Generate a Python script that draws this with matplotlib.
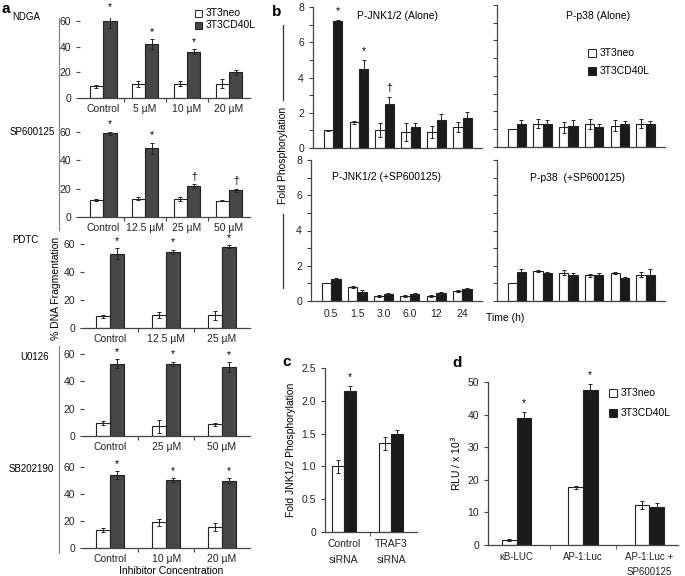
import numpy as np
import matplotlib
matplotlib.use("Agg")
import matplotlib.pyplot as plt
from matplotlib.lines import Line2D
from matplotlib.patches import Rectangle

plt.rcParams['font.family'] = ['Liberation Sans', 'DejaVu Sans']
plt.rcParams['font.size'] = 7.5

# ---- data: panel a (% DNA fragmentation) ----
ndga_labels = ['Control', '5 µM', '10 µM', '20 µM']
ndga_neo = [9, 11, 11, 11]
ndga_neo_err = [1.2, 2.5, 2, 3.5]
ndga_cd40 = [60, 42, 36, 20]
ndga_cd40_err = [5.5, 4, 2, 2]
ndga_marks = ['*', '*', '*', '']

sp_labels = ['Control', '12.5 µM', '25 µM', '50 µM']
sp_neo = [12, 13, 12.5, 11.5]
sp_neo_err = [1, 1.2, 1.5, 0.5]
sp_cd40 = [59, 48.5, 22, 19]
sp_cd40_err = [1.2, 4, 1.5, 1]
sp_marks = ['*', '*', '†', '†']

pdtc_labels = ['Control', '12.5 µM', '25 µM']
pdtc_neo = [8.5, 9.5, 9]
pdtc_neo_err = [1, 2, 3.5]
pdtc_cd40 = [53, 54.5, 58]
pdtc_cd40_err = [4, 1.5, 1]
pdtc_marks = ['*', '*', '*']

u0126_labels = ['Control', '25 µM', '50 µM']
u0126_neo = [9.5, 7, 8.5]
u0126_neo_err = [1.5, 5, 1]
u0126_cd40 = [53, 53, 50.5]
u0126_cd40_err = [3, 1.5, 3.5]
u0126_marks = ['*', '*', '*']

sb_labels = ['Control', '10 µM', '20 µM']
sb_neo = [13, 19, 15.5]
sb_neo_err = [1.5, 2.5, 3]
sb_cd40 = [54, 50.5, 50]
sb_cd40_err = [3, 1.5, 1.5]
sb_marks = ['*', '*', '*']

# ---- data: panel b (fold phosphorylation vs time) ----
time_labels = ['0.5', '1.5', '3.0', '6.0', '12', '24']
jnk_neo = [1.0, 1.45, 1.0, 0.9, 0.9, 1.2]
jnk_neo_err = [0.02, 0.07, 0.4, 0.5, 0.35, 0.3]
jnk_cd40 = [7.2, 4.5, 2.5, 1.2, 1.6, 1.7]
jnk_cd40_err = [0.07, 0.5, 0.4, 0.2, 0.35, 0.35]
jnk_marks = ['*', '*', '†', '', '', '']

p38_neo = [1.0, 1.3, 1.1, 1.3, 1.2, 1.3]
p38_neo_err = [0.0, 0.25, 0.3, 0.3, 0.3, 0.25]
p38_cd40 = [1.3, 1.3, 1.2, 1.1, 1.3, 1.3]
p38_cd40_err = [0.2, 0.2, 0.3, 0.2, 0.15, 0.15]

jnk_sp_neo = [1.0, 0.8, 0.3, 0.3, 0.3, 0.55]
jnk_sp_neo_err = [0.0, 0.06, 0.05, 0.05, 0.05, 0.05]
jnk_sp_cd40 = [1.25, 0.5, 0.38, 0.38, 0.45, 0.7]
jnk_sp_cd40_err = [0.05, 0.1, 0.05, 0.05, 0.05, 0.05]

p38_sp_neo = [1.0, 1.7, 1.6, 1.45, 1.6, 1.5]
p38_sp_neo_err = [0.0, 0.08, 0.15, 0.07, 0.06, 0.12]
p38_sp_cd40 = [1.65, 1.6, 1.5, 1.5, 1.3, 1.5]
p38_sp_cd40_err = [0.15, 0.05, 0.1, 0.1, 0.05, 0.3]

# ---- data: panel c ----
c_labels = ['Control\nsiRNA', 'TRAF3\nsiRNA']
c_neo = [1.0, 1.35]
c_neo_err = [0.1, 0.1]
c_cd40 = [2.15, 1.5]
c_cd40_err = [0.08, 0.06]
c_marks = ['*', '']

# ---- data: panel d ----
d_labels = ['κB-LUC', 'AP-1:Luc', 'AP-1:Luc +\nSP600125']
d_neo = [1.5, 17.7, 12.3]
d_neo_err = [0.2, 0.5, 1.2]
d_cd40 = [39, 47.5, 11.8]
d_cd40_err = [1.8, 1.8, 1.2]
d_marks = ['*', '*', '']

W, H = 685, 576
fig = plt.figure(figsize=(W / 100, H / 100), dpi=100)
AX_COL = '#444444'


def add_ax(left, right, y_zero, y_ref, ref_val, ytop):
    # place an axes from pixel coordinates (y measured from the top)
    ppu = (y_zero - y_ref) / ref_val
    top = y_zero - ytop * ppu
    ax = fig.add_axes([left / W, 1 - y_zero / H, (right - left) / W, (y_zero - top) / H])
    ax.set_ylim(0, ytop)
    for s in ['top', 'right']:
        ax.spines[s].set_visible(False)
    for s in ['left', 'bottom']:
        ax.spines[s].set_color(AX_COL)
        ax.spines[s].set_linewidth(0.9)
    ax.tick_params(colors=AX_COL, labelcolor='#222222', width=0.8, length=3, labelsize=7.5)
    return ax


def bars(ax, neo, neo_err, cd40, cd40_err, width, dark, marks=None, cap=1.5):
    x = np.arange(len(neo))
    ax.bar(x - width / 2, neo, width, color='white', edgecolor='#222222', linewidth=0.8, zorder=2)
    ax.bar(x + width / 2, cd40, width, color=dark, edgecolor='#222222', linewidth=0.8, zorder=2)
    ax.errorbar(x - width / 2, neo, yerr=neo_err, fmt='none', ecolor='#222222',
                elinewidth=0.7, capsize=cap, capthick=0.7, zorder=3)
    ax.errorbar(x + width / 2, cd40, yerr=cd40_err, fmt='none', ecolor='#222222',
                elinewidth=0.7, capsize=cap, capthick=0.7, zorder=3)
    if marks:
        span = ax.get_ylim()[1]
        for i, m in enumerate(marks):
            if m:
                ax.text(x[i] + width / 2, cd40[i] + cd40_err[i] + span * 0.025, m,
                        ha='center', va='bottom', fontsize=7.5, clip_on=False)
    return x


def group_axis(ax, n, labels, xlim):
    ax.set_xlim(*xlim)
    ax.set_xticks(np.arange(n))
    ax.set_xticklabels(labels)
    ax.tick_params(axis='x', length=0, pad=4)
    ax.set_xticks(np.arange(n - 1) + 0.5, minor=True)
    ax.tick_params(axis='x', which='minor', length=3, color=AX_COL, width=0.8)


# ---------------- panel a ----------------
a_dark = '#474747'
a_panels = [
    (ndga_neo, ndga_neo_err, ndga_cd40, ndga_cd40_err, ndga_labels, ndga_marks, 98, 21, 'NDGA', 12, 17),
    (sp_neo, sp_neo_err, sp_cd40, sp_cd40_err, sp_labels, sp_marks, 217, 132, 'SP600125', 10, 132),
    (pdtc_neo, pdtc_neo_err, pdtc_cd40, pdtc_cd40_err, pdtc_labels, pdtc_marks, 328, 244, 'PDTC', 12, 240),
    (u0126_neo, u0126_neo_err, u0126_cd40, u0126_cd40_err, u0126_labels, u0126_marks, 436, 354, 'U0126', 20, 357),
    (sb_neo, sb_neo_err, sb_cd40, sb_cd40_err, sb_labels, sb_marks, 548, 467, 'SB202190', 9, 469),
]
for neo, ne, cd, ce, labels, marks, y0, y60, name, nx, ny in a_panels:
    n = len(neo)
    left = 80 if n == 4 else 84
    ax = add_ax(left, 250, y0, y60, 60, 62)
    ax.spines['left'].set_visible(False)
    w = 0.32 if n == 4 else 0.25
    bars(ax, neo, ne, cd, ce, w, a_dark, marks)
    xl = (-0.55, 3.5) if n == 4 else (-0.47, 2.5)
    group_axis(ax, n, labels, xl)
    ax.set_yticks([0, 20, 40, 60])
    fig.text(nx / W, 1 - ny / H, name, fontsize=7, ha='left', va='center')

fig.text(2 / W, 1 - 9 / H, 'a', fontsize=11, fontweight='bold', ha='left', va='center')
fig.text(56 / W, 1 - 288 / H, '% DNA Fragmentation', rotation=90, fontsize=7.5,
         ha='center', va='center')
fig.add_artist(Line2D([59 / W, 59 / W], [1 - 18 / H, 1 - 230 / H], color='#888888', lw=0.9))
fig.add_artist(Line2D([59 / W, 59 / W], [1 - 346 / H, 1 - 553 / H], color='#888888', lw=0.9))
fig.text(171 / W, 1 - 571 / H, 'Inhibitor Concentration', fontsize=7.5, ha='center', va='center')

# legend for panel a
fig.add_artist(Rectangle((195 / W, 1 - 17 / H), 7 / W, 7 / H, facecolor='white',
                         edgecolor='#222222', lw=0.7))
fig.add_artist(Rectangle((195 / W, 1 - 29 / H), 7 / W, 7 / H, facecolor=a_dark,
                         edgecolor='#222222', lw=0.7))
fig.text(206 / W, 1 - 13.5 / H, '3T3neo', fontsize=7.5, va='center')
fig.text(206 / W, 1 - 25.5 / H, '3T3CD40L', fontsize=7.5, va='center')

# ---------------- panel b ----------------
b_dark = '#1a1a1a'
b_xlim = (-0.77, 5.75)
b_panels = [
    (313, 482, 148, 7, jnk_neo, jnk_neo_err, jnk_cd40, jnk_cd40_err, jnk_marks, 'P-JNK1/2 (Alone)', 397, 16, True, False),
    (497, 665, 147, 5, p38_neo, p38_neo_err, p38_cd40, p38_cd40_err, None, 'P-p38 (Alone)', 598, 16, False, False),
    (311, 482, 301, 160, jnk_sp_neo, jnk_sp_neo_err, jnk_sp_cd40, jnk_sp_cd40_err, None, 'P-JNK1/2 (+SP600125)', 387, 177, True, True),
    (497, 665, 301, 160, p38_sp_neo, p38_sp_neo_err, p38_sp_cd40, p38_sp_cd40_err, None, 'P-p38  (+SP600125)', 577, 178, False, False),
]
for l, r, y0, y8, neo, ne, cd, ce, marks, title, tx, ty, ylab, xlab in b_panels:
    ax = add_ax(l, r, y0, y8, 8, 8)
    bars(ax, neo, ne, cd, ce, 0.36, b_dark, marks, cap=1.5)
    ax.set_xlim(*b_xlim)
    ax.set_xticks(np.arange(6))
    ax.tick_params(axis='x', length=0, pad=6)
    if xlab:
        ax.set_xticklabels(time_labels)
    else:
        ax.set_xticklabels([])
    ax.set_yticks([0, 2, 4, 6, 8])
    ax.set_yticks([1, 3, 5, 7], minor=True)
    ax.tick_params(axis='y', which='minor', length=3, color=AX_COL, width=0.8)
    if not ylab:
        ax.set_yticklabels([])
    fig.text(tx / W, 1 - ty / H, title, fontsize=7.5, ha='center', va='center')

fig.text(272 / W, 1 - 12 / H, 'b', fontsize=11, fontweight='bold', ha='left', va='center')
fig.text(283 / W, 1 - 155 / H, 'Fold Phosphorylation', rotation=90, fontsize=7.5,
         ha='center', va='center')
fig.add_artist(Line2D([283 / W, 283 / W], [1 - 25 / H, 1 - 100 / H], color='#333333', lw=0.9))
fig.add_artist(Line2D([283 / W, 283 / W], [1 - 214 / H, 1 - 288 / H], color='#333333', lw=0.9))
fig.text(505 / W, 1 - 318 / H, 'Time (h)', fontsize=7.5, ha='center', va='center')

fig.add_artist(Rectangle((588 / W, 1 - 57 / H), 8 / W, 8 / H, facecolor='white',
                         edgecolor='#222222', lw=0.7))
fig.add_artist(Rectangle((588 / W, 1 - 75 / H), 8 / W, 8 / H, facecolor=b_dark,
                         edgecolor='#222222', lw=0.7))
fig.text(600 / W, 1 - 53 / H, '3T3neo', fontsize=7.5, va='center')
fig.text(600 / W, 1 - 71 / H, '3T3CD40L', fontsize=7.5, va='center')

# ---------------- panel c ----------------
ax = add_ax(325, 417, 532, 368, 2.5, 2.5)
bars(ax, c_neo, c_neo_err, c_cd40, c_cd40_err, 0.25, b_dark, c_marks)
ax.set_xlim(-0.4, 1.55)
ax.set_xticks(np.arange(2))
ax.set_xticklabels(c_labels, linespacing=1.8)
ax.tick_params(axis='x', length=0, pad=5)
ax.set_xticks([0.55], minor=True)
ax.tick_params(axis='x', which='minor', length=3, color=AX_COL)
ax.set_yticks([0, 0.5, 1.0, 1.5, 2.0, 2.5])
ax.set_yticklabels(['0', '0.5', '1.0', '1.5', '2.0', '2.5'])
ax.set_ylabel('Fold JNK1/2 Phosphorylation', fontsize=7.5, labelpad=4)
fig.text(282 / W, 1 - 362 / H, 'c', fontsize=11, fontweight='bold', ha='left', va='center')

# ---------------- panel d ----------------
ax = add_ax(488, 678, 545, 382, 50, 50)
bars(ax, d_neo, d_neo_err, d_cd40, d_cd40_err, 0.22, b_dark, d_marks)
ax.set_xlim(-0.43, 2.43)
ax.set_xticks(np.arange(3))
ax.set_xticklabels(d_labels, fontsize=7, linespacing=1.6)
ax.tick_params(axis='x', length=0, pad=5)
ax.set_xticks([0.5, 1.5], minor=True)
ax.tick_params(axis='x', which='minor', length=3, color=AX_COL)
ax.set_yticks([0, 10, 20, 30, 40, 50])
ax.set_ylabel('RLU / x 10$^3$', fontsize=7.5, labelpad=3)
fig.text(452 / W, 1 - 363 / H, 'd', fontsize=11, fontweight='bold', ha='left', va='center')
fig.add_artist(Rectangle((609 / W, 1 - 397 / H), 8 / W, 8 / H, facecolor='white',
                         edgecolor='#222222', lw=0.7))
fig.add_artist(Rectangle((609 / W, 1 - 417 / H), 8 / W, 8 / H, facecolor=b_dark,
                         edgecolor='#222222', lw=0.7))
fig.text(621 / W, 1 - 393 / H, '3T3neo', fontsize=7.5, va='center')
fig.text(621 / W, 1 - 413 / H, '3T3CD40L', fontsize=7.5, va='center')

fig.savefig('out.png', dpi=100)
